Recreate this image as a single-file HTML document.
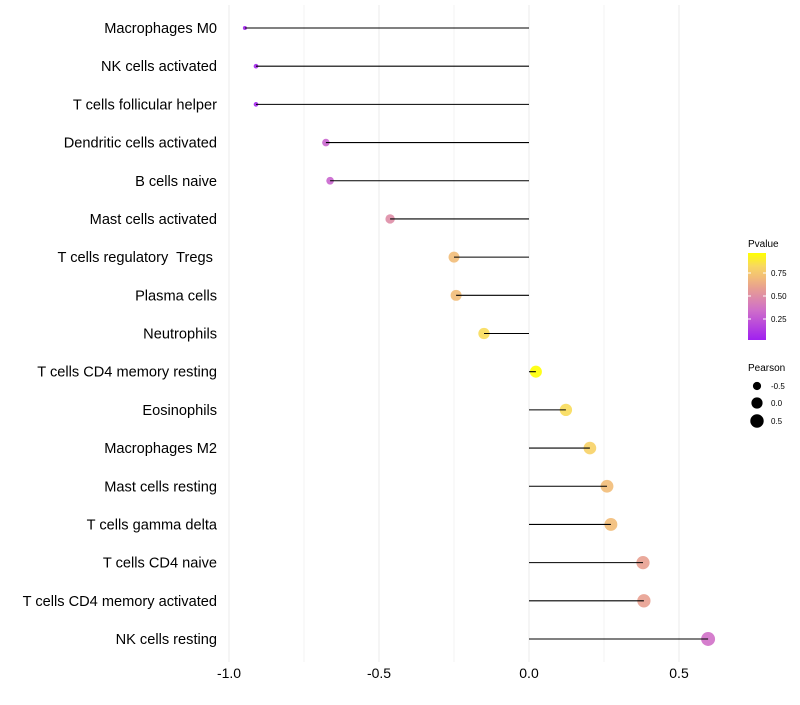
<!DOCTYPE html>
<html><head><meta charset="utf-8"><style>
body{margin:0;background:#fff}
svg text{font-family:"Liberation Sans",sans-serif;white-space:pre}
</style></head><body>
<svg id="c" width="800" height="700" xmlns="http://www.w3.org/2000/svg">
<defs><linearGradient id="g" x1="0" y1="1" x2="0" y2="0">
<stop offset="0" stop-color="#A020F0"/><stop offset="0.35" stop-color="#D070C8"/><stop offset="0.6" stop-color="#E8A090"/><stop offset="0.72" stop-color="#F2BC78"/><stop offset="0.85" stop-color="#F8D860"/><stop offset="1" stop-color="#FFFF00"/></linearGradient></defs>
<g id="grid"></g><g id="points"></g><g id="marks"></g><g id="labels"></g>
<g>
<text x="748" y="247" font-size="10">Pvalue</text>
<rect x="748" y="253" width="18" height="87" fill="url(#g)"/>
<line x1="748" y1="273" x2="751" y2="273" stroke="#fff"/><line x1="763" y1="273" x2="766" y2="273" stroke="#fff"/>
<line x1="748" y1="296" x2="751" y2="296" stroke="#fff"/><line x1="763" y1="296" x2="766" y2="296" stroke="#fff"/>
<line x1="748" y1="319" x2="751" y2="319" stroke="#fff"/><line x1="763" y1="319" x2="766" y2="319" stroke="#fff"/>
<text x="771" y="276" font-size="8">0.75</text><text x="771" y="299" font-size="8">0.50</text><text x="771" y="322" font-size="8">0.25</text>
</g>
<g>
<text x="748" y="371" font-size="10">Pearson</text>
<circle cx="757" cy="386" r="4.1"/><circle cx="757" cy="403" r="5.6"/><circle cx="757" cy="421" r="6.7"/>
<text x="771" y="389" font-size="8">-0.5</text><text x="771" y="406" font-size="8">0.0</text><text x="771" y="424" font-size="8">0.5</text>
</g>
</svg>
<script>
const categories=["Macrophages M0","NK cells activated","T cells follicular helper","Dendritic cells activated","B cells naive","Mast cells activated","T cells regulatory  Tregs ","Plasma cells","Neutrophils","T cells CD4 memory resting","Eosinophils","Macrophages M2","Mast cells resting","T cells gamma delta","T cells CD4 naive","T cells CD4 memory activated","NK cells resting"];
const pearson=[-0.947,-0.91,-0.91,-0.677,-0.663,-0.463,-0.25,-0.243,-0.15,0.023,0.123,0.203,0.26,0.273,0.38,0.383,0.597];
const pvalue=[0.02,0.03,0.03,0.3,0.3,0.5,0.72,0.72,0.86,1.0,0.86,0.82,0.72,0.72,0.6,0.6,0.35];
const xTicks=[-1.0,-0.5,0.0,0.5];
const xTickLabels=["-1.0","-0.5","0.0","0.5"];
const xMinor=[-0.75,-0.25,0.25];
const NS="http://www.w3.org/2000/svg";
const xs=v=>529+v*300;
const ys=i=>28+i*(639-28)/(categories.length-1);
const rs=v=>Math.sqrt(v<-0.25?4+37*(v+0.95):30+22*(v+0.25));
const stops=[[0,[160,32,240]],[0.35,[208,112,200]],[0.6,[232,160,144]],[0.72,[242,188,120]],[0.85,[248,216,96]],[1,[255,255,0]]];
function col(p){for(let k=1;k<stops.length;k++){if(p<=stops[k][0]){const a=stops[k-1],b=stops[k],t=(p-a[0])/(b[0]-a[0]);return "rgb("+a[1].map((c,j)=>Math.round(c+(b[1][j]-c)*t)).join(",")+")";}}return "rgb(255,255,0)";}
function mk(tag,at,par){const e=document.createElementNS(NS,tag);for(const k in at)e.setAttribute(k,at[k]);document.getElementById(par).appendChild(e);return e;}
xTicks.concat(xMinor).forEach(v=>{const l=mk("line",{x1:xs(v),x2:xs(v),y1:5,y2:662,stroke:"#ebebeb","stroke-width":xTicks.includes(v)?1:0.6},"grid");

});
xTicks.forEach((v,i)=>{const t=mk("text",{x:xs(v),y:678,"font-size":14,"text-anchor":"middle"},"labels");t.textContent=xTickLabels[i];

});
categories.forEach((c,i)=>{const y=ys(i);
const t=mk("text",{x:217,y:y+5,"font-size":14.6,"text-anchor":"end"},"labels");t.textContent=c;


const p=mk("circle",{cx:xs(pearson[i]),cy:y,r:rs(pearson[i]),fill:col(pvalue[i]),"fill-opacity":0.9},"points");


const l=mk("line",{x1:xs(0),x2:xs(pearson[i]),y1:y,y2:y,stroke:"#000","stroke-width":1.1},"marks");

});
</script>
</body></html>
